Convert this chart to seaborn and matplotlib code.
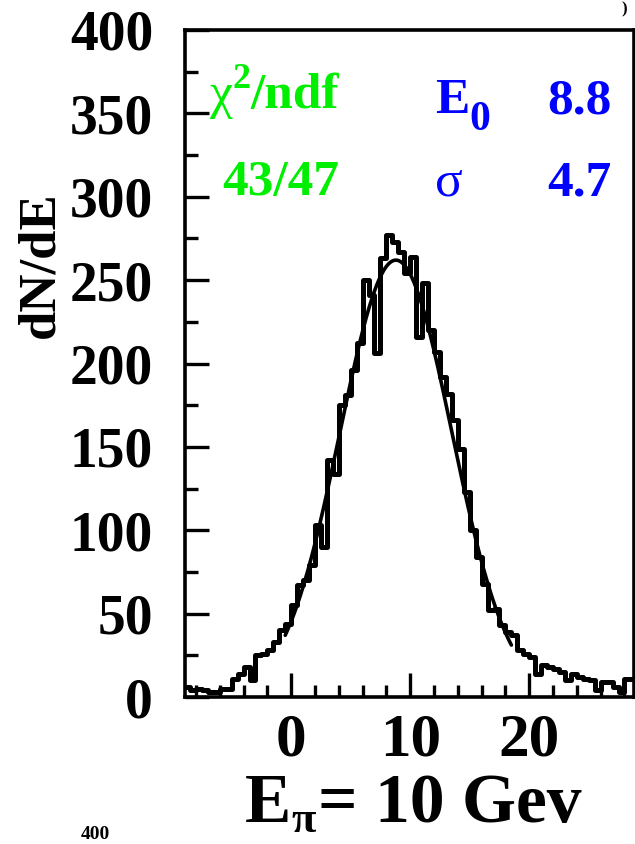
import numpy as np
import pandas as pd
import matplotlib
matplotlib.use("Agg")
import matplotlib.pyplot as plt
import seaborn as sns
from matplotlib.ticker import MultipleLocator

# Histogram: bin starts (GeV) and counts
bin_width = 0.5
bin_starts = np.arange(-9.0, 29.0, bin_width)
counts = [
    6, 4, 5, 4, 3, 3, 5, 5,
    11, 14, 18, 10, 25, 26, 28, 33,
    40, 44, 55, 67, 70, 79, 103, 90,
    142, 134, 175, 181, 196, 212, 250, 241,
    206, 263, 277, 273, 267, 254, 264, 216,
    248, 220, 207, 192, 182, 166, 149, 123,
    100, 84, 68, 52, 53, 43, 39, 37,
    28, 26, 24, 14, 19, 18, 17, 15,
    10, 14, 12, 11, 10, 4, 9, 9,
    6, 3, 11, 11,
]

# Gaussian fit shown on the chart
fit_E0 = 8.8
fit_sigma = 4.7
fit_amp = 262
fit_range = (-0.5, 18.5)
chi2_text = "43/47"

xticks = [0, 10, 20]
yticks = [0, 50, 100, 150, 200, 250, 300, 350, 400]

sns.set_style("ticks")
plt.rcParams["font.family"] = ["Liberation Serif", "DejaVu Serif"]
plt.rcParams["font.weight"] = "bold"
for key in ["text.color", "axes.labelcolor", "xtick.color", "ytick.color", "axes.edgecolor"]:
    plt.rcParams[key] = "black"

fig = plt.figure(figsize=(6.35, 8.44), dpi=100)
ax = fig.add_axes([185 / 635, 1 - 697 / 844, 448.5 / 635, 667 / 844])

hist = pd.DataFrame({"E": bin_starts + bin_width / 2, "n": counts})
sns.histplot(data=hist, x="E", weights="n", binwidth=bin_width,
             binrange=(bin_starts[0], bin_starts[-1] + bin_width),
             element="step", fill=False, color="black", linewidth=3.6, ax=ax)

xf = np.linspace(fit_range[0], fit_range[1], 300)
fit = pd.DataFrame({"E": xf,
                    "f": fit_amp * np.exp(-0.5 * ((xf - fit_E0) / fit_sigma) ** 2)})
sns.lineplot(data=fit, x="E", y="f", color="black", linewidth=2.6, ax=ax)

ax.set_xlim(-8.92, 28.76)
ax.set_ylim(0, 400)
ax.set_xticks(xticks)
ax.set_yticks(yticks)
ax.xaxis.set_minor_locator(MultipleLocator(2))
ax.yaxis.set_minor_locator(MultipleLocator(25))
ax.tick_params(which="major", direction="in", length=17, width=2.4)
ax.tick_params(which="minor", direction="in", length=9, width=2.4)
ax.tick_params(axis="y", which="major", labelsize=40, pad=23)
ax.tick_params(axis="x", which="major", labelsize=44, pad=11)
for lab in ax.get_xticklabels() + ax.get_yticklabels():
    lab.set_fontweight("bold")
for sp in ax.spines.values():
    sp.set_visible(True)
    sp.set_linewidth(2.6)
ax.set_xlabel("")
ax.set_ylabel("dN/dE", fontsize=38, fontweight="bold", va="center")
ax.yaxis.set_label_coords(-0.323, 0.648)

renderer = fig.canvas.get_renderer()


def put(x_px, base_px, s, size, color="black", weight="bold"):
    # place text by pixel position (left, baseline) and return its right edge
    t = fig.text(x_px / 635, 1 - base_px / 844, s, fontsize=size, color=color,
                 fontweight=weight, ha="left", va="baseline")
    return t.get_window_extent(renderer).x1


# x axis title with a subscript
x = put(245, 822, "E", 50)
x = put(x, 832, "\u03c0", 32)
put(x + 2, 822, "= 10 Gev", 50)

green = "#00ee00"
blue = "#0000ff"
x = put(210, 108, "\u03c7", 37, green, "normal")
x = put(x, 88, "2", 26, green)
put(x, 108, "/ndf", 37, green)
put(222, 195, chi2_text, 37, green)
x = put(435, 113, "E", 37, blue)
put(x, 130, "0", 30, blue)
fig.text(612 / 635, 1 - 113 / 844, f"{fit_E0:.1f}", color=blue, fontsize=37,
         fontweight="bold", ha="right", va="baseline")
put(435, 195, "\u03c3", 37, blue, "normal")
fig.text(612 / 635, 1 - 195 / 844, f"{fit_sigma:.1f}", color=blue, fontsize=37,
         fontweight="bold", ha="right", va="baseline")

# pieces of the neighbouring panels at the figure edges
fig.text(624 / 635, 1 - 1 / 844, ")", fontsize=12, ha="center", va="top")
fig.text(95 / 635, 1 - 843 / 844, "400", fontsize=14, fontweight="bold",
         ha="center", va="bottom")

fig.savefig("out.png", dpi=100)
